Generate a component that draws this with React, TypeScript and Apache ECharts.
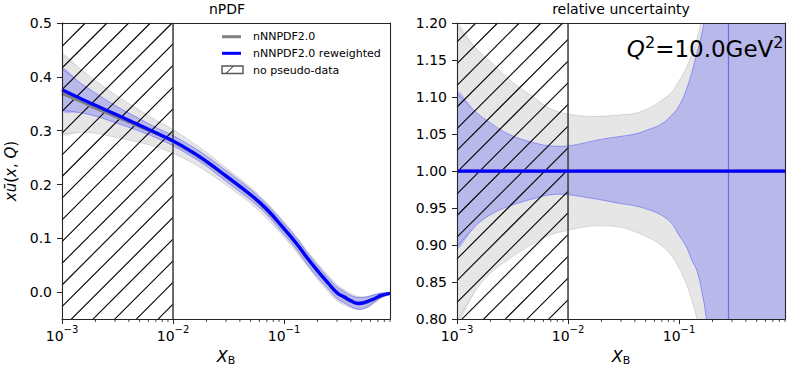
import { useEffect, useRef } from 'react';
import * as echarts from 'echarts';

const FONT = 'DejaVu Sans';

// ---------- left panel: nPDF, x*ubar(x,Q) ----------
const xNodes = [0.001, 0.0015, 0.002, 0.003, 0.005, 0.007, 0.01, 0.015, 0.02, 0.03, 0.05, 0.07, 0.1, 0.13, 0.16, 0.2, 0.25, 0.3, 0.35, 0.4, 0.47, 0.55, 0.65, 0.75, 0.9];
const priorCentral = [0.369, 0.354, 0.342, 0.327, 0.308, 0.295, 0.280, 0.259, 0.242, 0.215, 0.180, 0.152, 0.117, 0.089, 0.064, 0.039, 0.016, -0.001, -0.010, -0.017, -0.021, -0.019, -0.013, -0.007, -0.002];
const priorUpper = [0.440, 0.413, 0.393, 0.367, 0.338, 0.320, 0.302, 0.278, 0.260, 0.231, 0.195, 0.166, 0.131, 0.103, 0.078, 0.054, 0.031, 0.014, 0.004, -0.003, -0.008, -0.008, -0.004, -0.001, 0.000];
const priorLower = [0.294, 0.297, 0.295, 0.288, 0.278, 0.270, 0.258, 0.240, 0.224, 0.199, 0.165, 0.137, 0.102, 0.074, 0.050, 0.024, 0.001, -0.016, -0.024, -0.029, -0.032, -0.029, -0.020, -0.011, -0.004];
const rewCentral = [0.376, 0.359, 0.347, 0.331, 0.310, 0.296, 0.281, 0.260, 0.243, 0.216, 0.181, 0.154, 0.118, 0.090, 0.065, 0.040, 0.017, -0.001, -0.009, -0.016, -0.021, -0.018, -0.012, -0.006, -0.002];
const rewUpper = [0.415, 0.387, 0.370, 0.347, 0.322, 0.306, 0.291, 0.270, 0.253, 0.226, 0.191, 0.163, 0.128, 0.100, 0.075, 0.050, 0.027, 0.010, 0.001, -0.006, -0.010, -0.009, -0.005, -0.002, -0.0005];
const rewLower = [0.338, 0.333, 0.327, 0.315, 0.299, 0.287, 0.272, 0.251, 0.234, 0.206, 0.171, 0.144, 0.107, 0.079, 0.053, 0.028, 0.006, -0.012, -0.020, -0.027, -0.032, -0.029, -0.019, -0.010, -0.003];

// ---------- right panel: relative uncertainty ----------
const xRel = [0.001, 0.0015, 0.002, 0.003, 0.005, 0.007, 0.01, 0.015, 0.02, 0.03, 0.04, 0.055, 0.07, 0.085, 0.1, 0.115, 0.13, 0.145, 0.16, 0.175, 0.2, 0.25, 0.3, 0.4, 0.6, 0.9];
const relPriorUpper = [1.196, 1.165, 1.148, 1.123, 1.099, 1.084, 1.077, 1.074, 1.074, 1.076, 1.078, 1.086, 1.096, 1.106, 1.122, 1.138, 1.157, 1.178, 1.21, 1.26, 1.4, 2.0, 3.0, 3.0, 3.0, 3.0];
const relPriorLower = [0.797, 0.840, 0.862, 0.882, 0.903, 0.914, 0.920, 0.925, 0.926, 0.924, 0.918, 0.909, 0.899, 0.886, 0.869, 0.849, 0.826, 0.800, 0.77, 0.72, 0.6, 0.2, -1.0, -1.0, -1.0, -1.0];
const relRewUpper = [1.105, 1.079, 1.065, 1.049, 1.038, 1.034, 1.034, 1.039, 1.043, 1.047, 1.050, 1.057, 1.064, 1.075, 1.088, 1.108, 1.133, 1.160, 1.185, 1.22, 1.35, 2.0, 3.0, 3.0, 3.0, 3.0];
const relRewLower = [0.898, 0.927, 0.941, 0.953, 0.963, 0.968, 0.968, 0.964, 0.961, 0.956, 0.953, 0.947, 0.940, 0.930, 0.913, 0.899, 0.880, 0.865, 0.838, 0.803, 0.72, 0.4, -1.0, -1.0, -1.0, -1.0];
const relCentral = [1, 1, 1, 1, 1, 1, 1, 1, 1, 1, 1, 1, 1, 1, 1, 1, 1, 1, 1, 1, 1, 1, 1, 1, 1, 1];
const relDivergenceX = 0.285;

// ---------- axes / ticks ----------
const xMin = 0.001;
const xMax = 0.9;
const noPseudoDataRange = [0.001, 0.01];
const majorXTicks = [0.001, 0.01, 0.1];
const minorXTicks = [0.002, 0.003, 0.004, 0.005, 0.006, 0.007, 0.008, 0.009, 0.02, 0.03, 0.04, 0.05, 0.06, 0.07, 0.08, 0.09, 0.2, 0.3, 0.4, 0.5, 0.6, 0.7, 0.8, 0.9];
const leftYRange = [-0.05, 0.5];
const leftYTicks = [0, 0.1, 0.2, 0.3, 0.4, 0.5];
const rightYRange = [0.8, 1.2];
const rightYTicks = [0.8, 0.85, 0.9, 0.95, 1.0, 1.05, 1.1, 1.15, 1.2];

const GRAY_FILL = 'rgba(128,128,128,0.2)';
const GRAY_EDGE = 'rgba(128,128,128,0.25)';
const BLUE_FILL = 'rgba(0,0,255,0.2)';
const BLUE_EDGE = 'rgba(0,0,255,0.3)';
const SPINE = '#262626';
const SMOOTH = 0.4;

const pairs = (xs: number[], ys: number[]) => xs.map((x, i) => [x, ys[i]]);

function band(name: string, xs: number[], lo: number[], hi: number[], fill: string, edge: string, xi: number, yi: number) {
  return {
    type: 'custom', name, xAxisIndex: xi, yAxisIndex: yi, silent: true, z: 2, clip: true,
    data: xs.map((x, i) => [x, lo[i], hi[i]]),
    encode: { x: 0, y: [1, 2] },
    renderItem: (params: any, api: any) => {
      if (params.dataIndex !== 0) return null;
      const upper = xs.map((x, i) => api.coord([x, hi[i]]));
      const lower = xs.map((x, i) => api.coord([x, lo[i]]));
      const ring = upper.concat(lower.slice().reverse());
      return {
        type: 'group',
        children: [
          { type: 'polygon', shape: { points: ring, smooth: SMOOTH }, style: { fill, stroke: 'none' } },
          { type: 'polyline', shape: { points: upper, smooth: SMOOTH }, style: { fill: 'none', stroke: edge, lineWidth: 1 } },
          { type: 'polyline', shape: { points: lower, smooth: SMOOTH }, style: { fill: 'none', stroke: edge, lineWidth: 1 } },
        ],
      };
    },
  };
}

function centralLine(name: string, xs: number[], ys: number[], color: string, xi: number, yi: number, extra: any = {}) {
  return {
    type: 'line', name, xAxisIndex: xi, yAxisIndex: yi, data: pairs(xs, ys), symbol: 'none',
    smooth: 0.5, silent: true, z: 4, lineStyle: { color, width: 3.3 }, ...extra,
  };
}

function hatch(xi: number, yi: number, yRef: number) {
  return {
    type: 'custom', xAxisIndex: xi, yAxisIndex: yi, silent: true, z: 3,
    data: [[noPseudoDataRange[0], yRef, noPseudoDataRange[1]]],
    renderItem: (params: any, api: any) => {
      const cs = params.coordSys;
      const xa = api.coord([api.value(0), api.value(1)])[0];
      const xb = api.coord([api.value(2), api.value(1)])[0];
      const top = cs.y;
      const bottom = cs.y + cs.height;
      const sp = 21.7;
      const ph = 21.5;
      const children: any[] = [];
      const cStart = Math.ceil((xa + top - ph) / sp) * sp + ph;
      for (let c = cStart; c <= xb + bottom; c += sp) {
        const x1 = Math.max(xa, c - bottom);
        const x2 = Math.min(xb, c - top);
        if (x2 > x1 + 0.5) {
          children.push({ type: 'line', shape: { x1, y1: c - x1, x2, y2: c - x2 }, style: { stroke: '#000', lineWidth: 1.1 } });
        }
      }
      children.push({ type: 'line', shape: { x1: xb, y1: top, x2: xb, y2: bottom }, style: { stroke: '#3a3a3a', lineWidth: 1.5 } });
      return { type: 'group', children };
    },
  };
}

function minorTicks(xi: number, yi: number, yRef: number) {
  return {
    type: 'custom', xAxisIndex: xi, yAxisIndex: yi, silent: true, z: 10,
    data: minorXTicks.map((v) => [v, yRef]),
    renderItem: (params: any, api: any) => {
      const cs = params.coordSys;
      const x = api.coord([api.value(0), api.value(1)])[0];
      const b = cs.y + cs.height;
      return { type: 'line', shape: { x1: x, y1: b, x2: x, y2: b + 2.8 }, style: { stroke: SPINE, lineWidth: 0.9 } };
    },
  };
}

const xLabelRich = {
  b: { fontSize: 14, fontFamily: FONT, color: '#000', lineHeight: 24 },
  s: { fontSize: 10, fontFamily: FONT, color: '#000', lineHeight: 12, verticalAlign: 'top' },
};
const xNameRich = {
  x: { fontSize: 16, fontStyle: 'italic', fontFamily: FONT, color: '#000', lineHeight: 20 },
  b: { fontSize: 11, fontFamily: FONT, color: '#000', lineHeight: 13, verticalAlign: 'bottom' },
};

function bottomX(gridIndex: number) {
  return {
    type: 'log', logBase: 10, gridIndex, min: xMin, max: xMax, position: 'bottom', z: 10,
    axisLine: { show: true, onZero: false, lineStyle: { color: SPINE, width: 1.1 } },
    axisTick: { show: true, length: 5, customValues: majorXTicks, lineStyle: { color: SPINE, width: 1 } },
    axisLabel: {
      customValues: majorXTicks, margin: 5, color: '#000', fontFamily: FONT, rich: xLabelRich,
      formatter: (v: number) => `{b|10}{s|\u2212${-Math.round(Math.log10(v))}}`,
    },
    splitLine: { show: false },
    name: '{x|X}{b|B}', nameLocation: 'middle', nameGap: 25, nameTextStyle: { rich: xNameRich },
  };
}
function topX(gridIndex: number) {
  return {
    type: 'log', logBase: 10, gridIndex, min: xMin, max: xMax, position: 'top', z: 10,
    axisLine: { show: true, onZero: false, lineStyle: { color: SPINE, width: 1.1 } },
    axisTick: { show: false }, axisLabel: { show: false }, splitLine: { show: false },
  };
}
function leftY(gridIndex: number, range: number[], ticks: number[], digits: number, margin: number, extra: any = {}) {
  return {
    type: 'value', gridIndex, min: range[0], max: range[1], position: 'left', z: 10,
    axisLine: { show: true, onZero: false, lineStyle: { color: SPINE, width: 1.1 } },
    axisTick: { show: true, length: 5, customValues: ticks, lineStyle: { color: SPINE, width: 1 } },
    axisLabel: { customValues: ticks, margin, color: '#000', fontFamily: FONT, fontSize: 14, formatter: (v: number) => v.toFixed(digits) },
    splitLine: { show: false },
    ...extra,
  };
}
function rightY(gridIndex: number, range: number[]) {
  return {
    type: 'value', gridIndex, min: range[0], max: range[1], position: 'right', z: 10,
    axisLine: { show: true, onZero: false, lineStyle: { color: SPINE, width: 1.1 } },
    axisTick: { show: false }, axisLabel: { show: false }, splitLine: { show: false },
  };
}

const yNameRich = {
  i: { fontSize: 15, fontStyle: 'italic', fontFamily: FONT, color: '#000' },
  n: { fontSize: 15, fontFamily: FONT, color: '#000' },
};

const option: any = {
  animation: false,
  backgroundColor: '#fff',
  title: [
    { text: 'nPDF', left: 227, top: 2, padding: 0, textAlign: 'center', textStyle: { fontFamily: FONT, fontSize: 14, fontWeight: 'normal', color: '#000' } },
    { text: 'relative uncertainty', left: 621, top: 2, padding: 0, textAlign: 'center', textStyle: { fontFamily: FONT, fontSize: 14, fontWeight: 'normal', color: '#000' } },
  ],
  grid: [
    { left: 62, top: 23, width: 328, height: 298 },
    { left: 457, top: 23, width: 328, height: 298 },
  ],
  xAxis: [bottomX(0), topX(0), bottomX(1), topX(1)],
  yAxis: [
    leftY(0, leftYRange, leftYTicks, 1, 10, {
      name: '{i|x}{i|ū}{n|(}{i|x}{n|, }{i|Q}{n|)}', nameLocation: 'middle', nameRotate: 90, nameGap: 44,
      nameTextStyle: { rich: yNameRich },
    }),
    rightY(0, leftYRange),
    leftY(1, rightYRange, rightYTicks, 2, 10, { interval: 0.05 }),
    rightY(1, rightYRange),
  ],
  series: [
    band('nNNPDF2.0 band', xNodes, priorLower, priorUpper, GRAY_FILL, GRAY_EDGE, 0, 0),
    band('nNNPDF2.0 reweighted band', xNodes, rewLower, rewUpper, BLUE_FILL, BLUE_EDGE, 0, 0),
    hatch(0, 0, 0),
    centralLine('nNNPDF2.0', xNodes, priorCentral, '#808080', 0, 0),
    centralLine('nNNPDF2.0 reweighted', xNodes, rewCentral, '#0000ff', 0, 0),
    minorTicks(0, 0, 0),

    band('nNNPDF2.0 rel band', xRel, relPriorLower, relPriorUpper, GRAY_FILL, GRAY_EDGE, 2, 2),
    band('nNNPDF2.0 reweighted rel band', xRel, relRewLower, relRewUpper, BLUE_FILL, BLUE_EDGE, 2, 2),
    hatch(2, 2, 1),
    centralLine('nNNPDF2.0 (rel)', xRel, relCentral, '#808080', 2, 2),
    centralLine('nNNPDF2.0 reweighted (rel)', xRel, relCentral, '#0000ff', 2, 2, {
      markLine: {
        silent: true, symbol: ['none', 'none'], label: { show: false },
        lineStyle: { color: 'rgba(0,0,255,0.4)', width: 1.2, type: 'solid' },
        data: [{ xAxis: relDivergenceX }],
      },
    }),
    minorTicks(2, 2, 1),
  ],
  graphic: [
    { type: 'line', z: 20, shape: { x1: 222, y1: 36.7, x2: 241, y2: 36.7 }, style: { stroke: '#808080', lineWidth: 3 } },
    { type: 'text', z: 20, x: 253, y: 36.7, style: { text: 'nNNPDF2.0', fontFamily: FONT, fontSize: 11, fill: '#000', verticalAlign: 'middle' } },
    { type: 'line', z: 20, shape: { x1: 222, y1: 53.3, x2: 241, y2: 53.3 }, style: { stroke: '#0000ff', lineWidth: 3 } },
    { type: 'text', z: 20, x: 253, y: 53.3, style: { text: 'nNNPDF2.0 reweighted', fontFamily: FONT, fontSize: 11, fill: '#000', verticalAlign: 'middle' } },
    { type: 'rect', z: 20, shape: { x: 222, y: 66, width: 21, height: 7.5 }, style: { fill: 'none', stroke: '#555', lineWidth: 1.4 } },
    { type: 'line', z: 20, shape: { x1: 226.5, y1: 73, x2: 233, y2: 66.5 }, style: { stroke: '#000', lineWidth: 1 } },
    { type: 'text', z: 20, x: 253, y: 70, style: { text: 'no pseudo-data', fontFamily: FONT, fontSize: 11, fill: '#000', verticalAlign: 'middle' } },
    {
      type: 'text', z: 20, x: 783.5, y: 34,
      style: {
        text: '{q|Q}{s|2}{n|=10.0GeV}{s|2}', align: 'right', verticalAlign: 'top',
        rich: {
          q: { fontSize: 23, fontStyle: 'italic', fontFamily: FONT, fill: '#000', color: '#000', lineHeight: 30 },
          n: { fontSize: 23, fontFamily: FONT, fill: '#000', color: '#000', lineHeight: 30 },
          s: { fontSize: 16, fontFamily: FONT, fill: '#000', color: '#000', lineHeight: 18, verticalAlign: 'top' },
        },
      },
    },
  ],
};

export default function App() {
  const ref = useRef<HTMLDivElement>(null);
  useEffect(() => {
    const chart = echarts.init(ref.current!, null, { renderer: 'svg', width: 790, height: 371 });
    chart.setOption(option);
    return () => chart.dispose();
  }, []);
  return <div ref={ref} style={{ position: 'fixed', left: 0, top: 0, width: 790, height: 371, background: '#fff' }} />;
}
